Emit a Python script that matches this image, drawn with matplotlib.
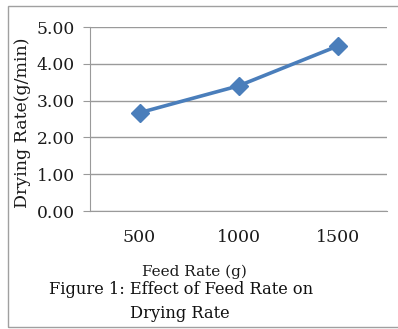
import matplotlib.pyplot as plt
from matplotlib.patches import Rectangle

# data
feed_rate = ["500", "1000", "1500"]
drying_rate = [2.67, 3.40, 4.48]
y_ticks = [0, 1, 2, 3, 4, 5]

W, H = 398, 329
plt.rcParams['font.family'] = 'DejaVu Serif'

fig = plt.figure(figsize=(W / 100, H / 100), dpi=100)
ax = fig.add_axes([90 / W, 1 - 211 / H, 297 / W, 184 / H])

x = range(len(feed_rate))
ax.plot(x, drying_rate, color='#4a7ebb', linewidth=2.6, marker='D',
        markersize=9, zorder=3, clip_on=False)

ax.set_xlim(-0.5, len(feed_rate) - 0.5)
ax.set_ylim(0, 5)
ax.set_xticks(list(x))
ax.set_xticklabels(feed_rate)
ax.set_yticks(y_ticks)
ax.set_yticklabels([f"{v:.2f}" for v in y_ticks])
ax.yaxis.grid(True, color='#9a9a9a', linewidth=1)
ax.set_axisbelow(True)

for s in ['top', 'right']:
    ax.spines[s].set_visible(False)
ax.spines['left'].set_color('#9a9a9a')
ax.spines['bottom'].set_color('#9a9a9a')
ax.tick_params(axis='y', length=5, color='#9a9a9a', labelsize=12.3, pad=6, labelcolor='#1a1a1a')
ax.tick_params(axis='x', length=0, labelsize=12.5, pad=13, labelcolor='#1a1a1a')
ax.set_ylabel("Drying Rate(g/min)", fontsize=12.5, color='#1a1a1a', va='center')
ax.yaxis.set_label_coords(-67 / 297, 0.48)

fig.text(194 / W, 1 - 272 / H, "Feed Rate (g)", ha='center', va='center',
         fontsize=11, color='#1a1a1a')
fig.text(181 / W, 1 - 289 / H, "Figure 1: Effect of Feed Rate on", ha='center',
         va='center', fontsize=11.7, color='#111111')
fig.text(180 / W, 1 - 314 / H, "Drying Rate", ha='center', va='center',
         fontsize=11.7, color='#111111')

fig.patches.append(Rectangle((8 / W, 2 / H), 395 / W, 321 / H, transform=fig.transFigure,
                             fill=False, edgecolor='#a0a0a0', linewidth=1))

fig.savefig("out.png", dpi=100)
